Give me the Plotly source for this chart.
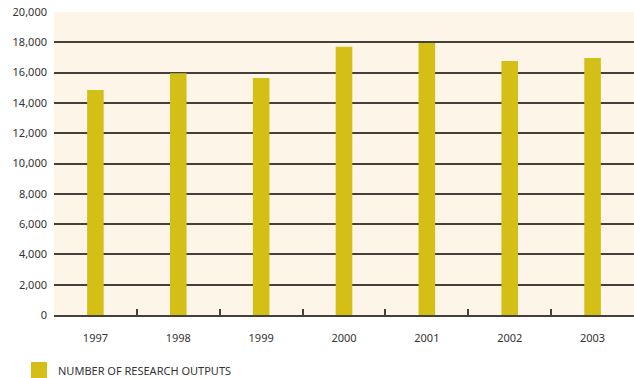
import plotly.graph_objects as go

# Annual research output counts
years = ["1997", "1998", "1999", "2000", "2001", "2002", "2003"]
outputs = [14850, 15950, 15650, 17700, 17950, 16770, 16960]
y_ticks = [0, 2000, 4000, 6000, 8000, 10000, 12000, 14000, 16000, 18000, 20000]
series_name = "NUMBER OF RESEARCH OUTPUTS"

BAR = "#d4bf17"
BG = "#fcf5e8"
LINE = "#45403a"
TEXT = "#333333"
FONT = "Noto Sans"

W, H = 634, 378
L, R, T, B = 54, 0, 12, 63

fig = go.Figure(
    go.Bar(
        x=years,
        y=outputs,
        marker=dict(color=BAR, line=dict(width=0)),
        name=series_name,
        showlegend=False,
    )
)

fig.update_layout(
    width=W,
    height=H,
    margin=dict(l=L, r=R, t=T, b=B, pad=0),
    paper_bgcolor="white",
    plot_bgcolor=BG,
    bargap=0.8,
    font=dict(family=FONT, size=11, color=TEXT),
)

fig.update_yaxes(
    range=[0, 20000],
    tickvals=y_ticks,
    tickformat=",d",
    showgrid=True,
    gridcolor=LINE,
    gridwidth=2,
    zeroline=False,
    showline=False,
    ticks="",
    ticklabelstandoff=6,
    tickfont=dict(family=FONT, size=11, color=TEXT),
)

fig.update_xaxes(
    type="category",
    showline=True,
    linecolor=LINE,
    linewidth=2,
    ticks="inside",
    tickson="boundaries",
    ticklen=6,
    tickwidth=2,
    tickcolor=LINE,
    showgrid=False,
    ticklabelstandoff=12,
    tickfont=dict(family=FONT, size=11, color=TEXT),
)

# Legend key drawn below the plot area
plot_w = W - L - R
plot_h = H - T - B
def px_x(px):
    return (px - L) / plot_w
def px_y(py):
    return (H - B - py) / plot_h

fig.add_shape(
    type="rect", xref="paper", yref="paper",
    x0=px_x(31), x1=px_x(47), y0=px_y(378), y1=px_y(362),
    fillcolor=BAR, line=dict(width=0),
)
fig.add_annotation(
    xref="paper", yref="paper",
    x=px_x(56), y=px_y(370),
    xanchor="left", yanchor="middle",
    text=series_name, showarrow=False,
    font=dict(family=FONT, size=11, color=TEXT),
)

fig.write_html("out.html")
